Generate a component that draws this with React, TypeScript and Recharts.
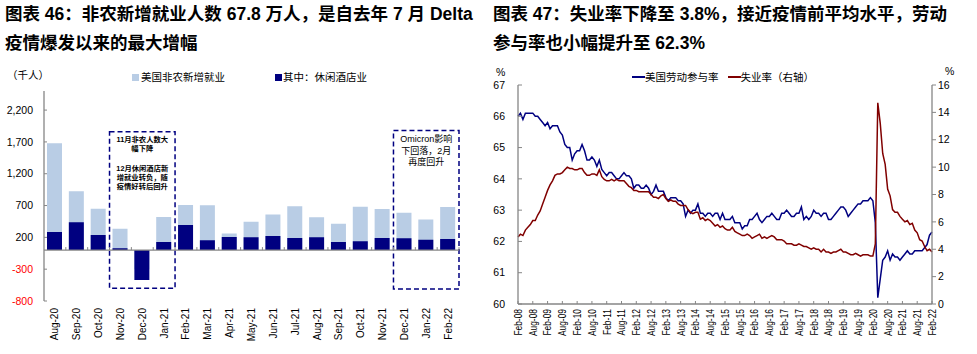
import React from 'react';
import { BarChart, Bar, XAxis, YAxis, ReferenceLine, ReferenceArea, Legend, LineChart, Line } from 'recharts';

const FONT = '"Liberation Sans", Arial, "Noto Sans CJK SC", sans-serif';
const AXIS = '#868686';
const LIGHT = '#B9CDE5';
const NAVY = '#000080';
const RED = '#800000';

// ---------- Left chart data ----------
const barMonths = ['Aug-20', 'Sep-20', 'Oct-20', 'Nov-20', 'Dec-20', 'Jan-21', 'Feb-21', 'Mar-21', 'Apr-21', 'May-21', 'Jun-21', 'Jul-21', 'Aug-21', 'Sep-21', 'Oct-21', 'Nov-21', 'Dec-21', 'Jan-22', 'Feb-22'];
const nonfarm = [1680, 925, 650, 335, -300, 520, 710, 705, 260, 445, 560, 690, 515, 415, 680, 645, 585, 480, 678];
const leisure = [285, 437, 238, 27, -470, 128, 396, 153, 206, 200, 222, 191, 200, 128, 137, 191, 185, 164, 175];
const barTicks = [-800, -300, 200, 700, 1200, 1700, 2200];
const barLegend = ['美国非农新增就业', '其中：休闲酒店业'];
const note1 = ['11月非农人数大', '幅下降', '12月休闲酒店新', '增就业转负，随', '疫情好转后回升'];
const note2 = ['Omicron影响', '下回落，2月', '再度回升'];

// ---------- Right chart data (monthly, Feb-08 .. Feb-22) ----------
const lfpr = [
  66.0, 66.1, 65.9, 66.1, 66.1, 66.1, 66.1, 66.0, 66.0, 65.9, 65.8,
  65.7, 65.8, 65.6, 65.7, 65.7, 65.7, 65.5, 65.4, 65.1, 65.0, 65.0, 64.6,
  64.8, 64.9, 64.9, 65.1, 64.9, 64.6, 64.6, 64.7, 64.6, 64.4, 64.6, 64.3,
  64.2, 64.1, 64.2, 64.2, 64.1, 64.0, 64.0, 64.1, 64.2, 64.1, 64.1, 64.0,
  63.7, 63.8, 63.8, 63.7, 63.7, 63.8, 63.7, 63.5, 63.6, 63.8, 63.6, 63.6,
  63.6, 63.4, 63.3, 63.4, 63.4, 63.4, 63.3, 63.3, 63.2, 62.8, 63.0, 62.9,
  63.0, 63.0, 63.2, 62.9, 62.9, 62.8, 62.9, 62.9, 62.8, 62.9, 62.9, 62.7,
  62.9, 62.7, 62.7, 62.7, 62.8, 62.6, 62.6, 62.6, 62.4, 62.5, 62.5, 62.7,
  62.7, 62.8, 62.9, 62.7, 62.6, 62.7, 62.8, 62.8, 62.9, 62.8, 62.7, 62.7,
  62.9, 62.9, 63.0, 62.9, 62.8, 62.8, 62.9, 62.9, 63.1, 62.7, 62.8, 62.7,
  62.8, 63.0, 62.9, 62.9, 62.8, 62.9, 62.9, 62.7, 62.7, 62.8, 62.9, 63.0,
  63.1, 63.1, 63.0, 62.8, 62.9, 63.0, 63.1, 63.2, 63.2, 63.3, 63.3, 63.3,
  63.4, 63.3, 62.6, 60.2, 60.8, 61.4, 61.5, 61.7, 61.4, 61.6, 61.5, 61.5,
  61.4, 61.5, 61.6, 61.7, 61.6, 61.6, 61.7, 61.7, 61.7, 61.7, 61.8, 61.9,
  62.2, 62.3,
];
const unrate = [
  4.9, 5.1, 5.0, 5.4, 5.6, 5.8, 6.1, 6.1, 6.5, 6.8, 7.3,
  7.8, 8.3, 8.7, 9.0, 9.4, 9.5, 9.5, 9.6, 9.8, 10.0, 9.9, 9.9,
  9.8, 9.8, 9.9, 9.9, 9.6, 9.4, 9.4, 9.5, 9.5, 9.4, 9.8, 9.3,
  9.1, 9.0, 9.0, 9.1, 9.0, 9.1, 9.0, 9.0, 9.0, 8.8, 8.6, 8.5,
  8.3, 8.3, 8.2, 8.2, 8.2, 8.2, 8.2, 8.0, 7.8, 7.8, 7.7, 7.9,
  8.0, 7.7, 7.5, 7.6, 7.5, 7.5, 7.3, 7.2, 7.2, 7.2, 6.9, 6.7,
  6.6, 6.7, 6.7, 6.2, 6.3, 6.1, 6.2, 6.1, 5.9, 5.7, 5.8, 5.6,
  5.7, 5.5, 5.4, 5.4, 5.6, 5.3, 5.2, 5.1, 5.0, 5.0, 5.1, 5.0,
  4.8, 4.9, 5.0, 5.1, 4.8, 4.9, 4.8, 4.9, 5.0, 4.9, 4.7, 4.7,
  4.7, 4.6, 4.4, 4.4, 4.4, 4.3, 4.3, 4.4, 4.3, 4.2, 4.2, 4.1,
  4.0, 4.1, 4.0, 4.0, 3.8, 4.0, 3.8, 3.8, 3.7, 3.8, 3.8, 3.9,
  4.0, 3.8, 3.8, 3.7, 3.6, 3.6, 3.7, 3.6, 3.5, 3.6, 3.6, 3.6,
  3.5, 3.5, 4.4, 14.7, 13.2, 11.0, 10.2, 8.4, 7.9, 6.9, 6.7, 6.7,
  6.4, 6.2, 6.0, 6.1, 5.8, 5.9, 5.4, 5.2, 4.7, 4.6, 4.2, 3.9,
  4.0, 3.8,
];
const MON = ['Jan', 'Feb', 'Mar', 'Apr', 'May', 'Jun', 'Jul', 'Aug', 'Sep', 'Oct', 'Nov', 'Dec'];
const lineMonths = lfpr.map((_, i) => {
  const t = 1 + i; // starts at Feb-08
  return `${MON[t % 12]}-${String(8 + Math.floor(t / 12)).padStart(2, '0')}`;
});
const lfprTicks = [60, 61, 62, 63, 64, 65, 66, 67];
const unrateTicks = [0, 2, 4, 6, 8, 10, 12, 14, 16];
const lineLegend = ['美国劳动参与率', '失业率（右轴）'];

const barData = barMonths.map((m, i) => ({ m, total: nonfarm[i], leisure: leisure[i] }));
const lineData = lineMonths.map((m, i) => ({ m, lfpr: lfpr[i], unrate: unrate[i] }));

// ---------- helpers ----------
const fmt = (v: number) => v.toLocaleString('en-US');

const BarYTick = (props: any) => {
  const { x, y, payload } = props;
  const v = payload.value as number;
  return (
    <text x={x} y={y} dy="0.355em" textAnchor="end" fontSize={10.5} fontFamily={FONT} fill={v < 0 ? '#FF0000' : '#000'}>
      {fmt(v)}
    </text>
  );
};

const RotTick = (props: any) => {
  const { x, y, payload, size, sx } = props;
  return (
    <g transform={`translate(${x},${y})`}>
      <text transform={`rotate(-90) scale(${sx || 1},1)`} textAnchor="end" dominantBaseline="central" fontSize={size} fontFamily={FONT} fill="#000">
        {payload.value}
      </text>
    </g>
  );
};

const PlainTick = (props: any) => {
  const { x, y, payload, textAnchor } = props;
  return (
    <text x={x} y={y} dy="0.355em" textAnchor={textAnchor} fontSize={10.5} fontFamily={FONT} fill="#000">
      {payload.value}
    </text>
  );
};

const ZeroAxis = (props: any) => {
  const { x1, y1, x2 } = props;
  const n = barMonths.length;
  const step = (x2 - x1) / n;
  return (
    <g>
      <line x1={x1} y1={y1} x2={x2} y2={y1} stroke={AXIS} strokeWidth={1.3} />
      {Array.from({ length: n }, (_, k) => (
        <line key={k} x1={x1 + (k + 1) * step} x2={x1 + (k + 1) * step} y1={y1} y2={y1 - 3} stroke={AXIS} />
      ))}
    </g>
  );
};

const Note = (props: any) => {
  const { viewBox, lines, offsets, size, bold } = props;
  if (!viewBox) return null;
  const cx = viewBox.x + viewBox.width / 2;
  return (
    <text fontSize={size} fontWeight={bold ? 700 : 400} fontFamily={FONT} fill="#000" textAnchor="middle">
      {lines.map((l: string, i: number) => (
        <tspan key={i} x={cx} y={viewBox.y + offsets[i]} dominantBaseline="central">{l}</tspan>
      ))}
    </text>
  );
};

const BarLegend = () => (
  <div style={{ display: 'flex', alignItems: 'center', fontFamily: FONT, fontSize: 10.5, lineHeight: '14px', whiteSpace: 'nowrap', color: '#000' }}>
    <span style={{ width: 7, height: 7, background: LIGHT, display: 'inline-block', marginRight: 2 }} />
    <span>{barLegend[0]}</span>
    <span style={{ width: 7, height: 7, background: NAVY, display: 'inline-block', marginLeft: 50, marginRight: 1 }} />
    <span>{barLegend[1]}</span>
  </div>
);

const LineLegend = () => (
  <div style={{ display: 'flex', alignItems: 'center', fontFamily: FONT, fontSize: 10.5, lineHeight: '14px', whiteSpace: 'nowrap', color: '#000' }}>
    <span style={{ width: 13, height: 1.5, background: NAVY, display: 'inline-block' }} />
    <span>{lineLegend[0]}</span>
    <span style={{ width: 13, height: 1.5, background: RED, display: 'inline-block', marginLeft: 9 }} />
    <span>{lineLegend[1]}</span>
  </div>
);

const titleStyle: React.CSSProperties = {
  position: 'absolute', top: 0, fontSize: 17.5, fontWeight: 700, lineHeight: '29px',
  whiteSpace: 'nowrap', color: '#000', fontFamily: FONT,
};
const unitStyle: React.CSSProperties = {
  position: 'absolute', fontSize: 10.5, lineHeight: '14px', whiteSpace: 'nowrap', color: '#000', fontFamily: FONT,
};

export default function App() {
  return (
    <div style={{ position: 'absolute', left: 0, top: 0, width: 977, height: 354, background: '#fff', overflow: 'hidden', fontFamily: FONT }}>
      <div style={{ ...titleStyle, left: 5 }}>
        图表 46：非农新增就业人数 67.8 万人，是自去年 7 月 Delta<br />疫情爆发以来的最大增幅
      </div>
      <div style={{ ...titleStyle, left: 493 }}>
        图表 47：失业率下降至 3.8%，接近疫情前平均水平，劳动<br />参与率也小幅提升至 62.3%
      </div>
      <div style={{ ...unitStyle, left: 7, top: 68 }}>（千人）</div>
      <div style={{ ...unitStyle, left: 496, top: 65 }}>%</div>
      <div style={{ ...unitStyle, left: 945, top: 64 }}>%</div>

      <div style={{ position: 'absolute', left: 0, top: 0 }}>
        <BarChart width={480} height={354} data={barData} margin={{ top: 91, right: 21, bottom: 0, left: 0 }} barSize={15} barGap={-15}>
          <XAxis dataKey="m" interval={0} height={53} axisLine={false} tickLine={false} tickSize={0} tickMargin={7}
            tick={(p: any) => <RotTick {...p} size={10} sx={1} />} />
          <YAxis width={44} domain={[-800, 2500]} ticks={barTicks} allowDataOverflow axisLine={{ stroke: AXIS, strokeWidth: 1.3 }}
            tickLine={{ stroke: AXIS }} tickSize={-3} tickMargin={14} tick={BarYTick} />
          <Legend layout="vertical" align="center" verticalAlign="middle" wrapperStyle={{ left: 132, top: 70, width: 300, height: 14 }} content={() => <BarLegend />} />
          <Bar dataKey="total" fill={LIGHT} isAnimationActive={false} />
          <Bar dataKey="leisure" fill={NAVY} isAnimationActive={false} />
          <ReferenceLine y={0} shape={ZeroAxis} />
          <ReferenceArea x1="Nov-20" x2="Jan-21" y1={-600} y2={1860} fill="none" fillOpacity={0} stroke={NAVY} strokeWidth={1.5} strokeDasharray="5 3"
            label={(p: any) => <Note {...p} lines={note1} offsets={[8, 17, 37, 46, 55]} size={7.3} bold />} />
          <ReferenceArea x1="Dec-21" x2="Feb-22" y1={-610} y2={1880} fill="none" fillOpacity={0} stroke={NAVY} strokeWidth={1.5} strokeDasharray="5 3"
            label={(p: any) => <Note {...p} lines={note2} offsets={[9, 20.5, 32]} size={9} />} />
        </BarChart>
      </div>

      <div style={{ position: 'absolute', left: 480, top: 0 }}>
        <LineChart width={497} height={354} data={lineData} margin={{ top: 85, right: 0, bottom: 0, left: 0 }}>
          <XAxis dataKey="m" interval={5} height={50} axisLine={{ stroke: AXIS, strokeWidth: 1.3 }} tickLine={{ stroke: AXIS }}
            tickSize={-3} tickMargin={8} tick={(p: any) => <RotTick {...p} size={10.5} sx={0.8} />} />
          <YAxis yAxisId="l" width={38} domain={[60, 67]} ticks={lfprTicks} axisLine={{ stroke: AXIS, strokeWidth: 1.3 }}
            tickLine={{ stroke: AXIS }} tickSize={-4} tickMargin={17} tick={PlainTick} />
          <YAxis yAxisId="r" orientation="right" width={45} domain={[0, 16]} ticks={unrateTicks} axisLine={{ stroke: AXIS, strokeWidth: 1.3 }}
            tickLine={{ stroke: AXIS }} tickSize={4} tickMargin={2} tick={PlainTick} />
          <Legend layout="vertical" align="center" verticalAlign="middle" wrapperStyle={{ left: 152, top: 70, width: 250, height: 14 }} content={() => <LineLegend />} />
          <Line yAxisId="l" dataKey="lfpr" stroke={NAVY} strokeWidth={1.5} dot={false} isAnimationActive={false} />
          <Line yAxisId="r" dataKey="unrate" stroke={RED} strokeWidth={1.5} dot={false} isAnimationActive={false} />
        </LineChart>
      </div>
    </div>
  );
}
